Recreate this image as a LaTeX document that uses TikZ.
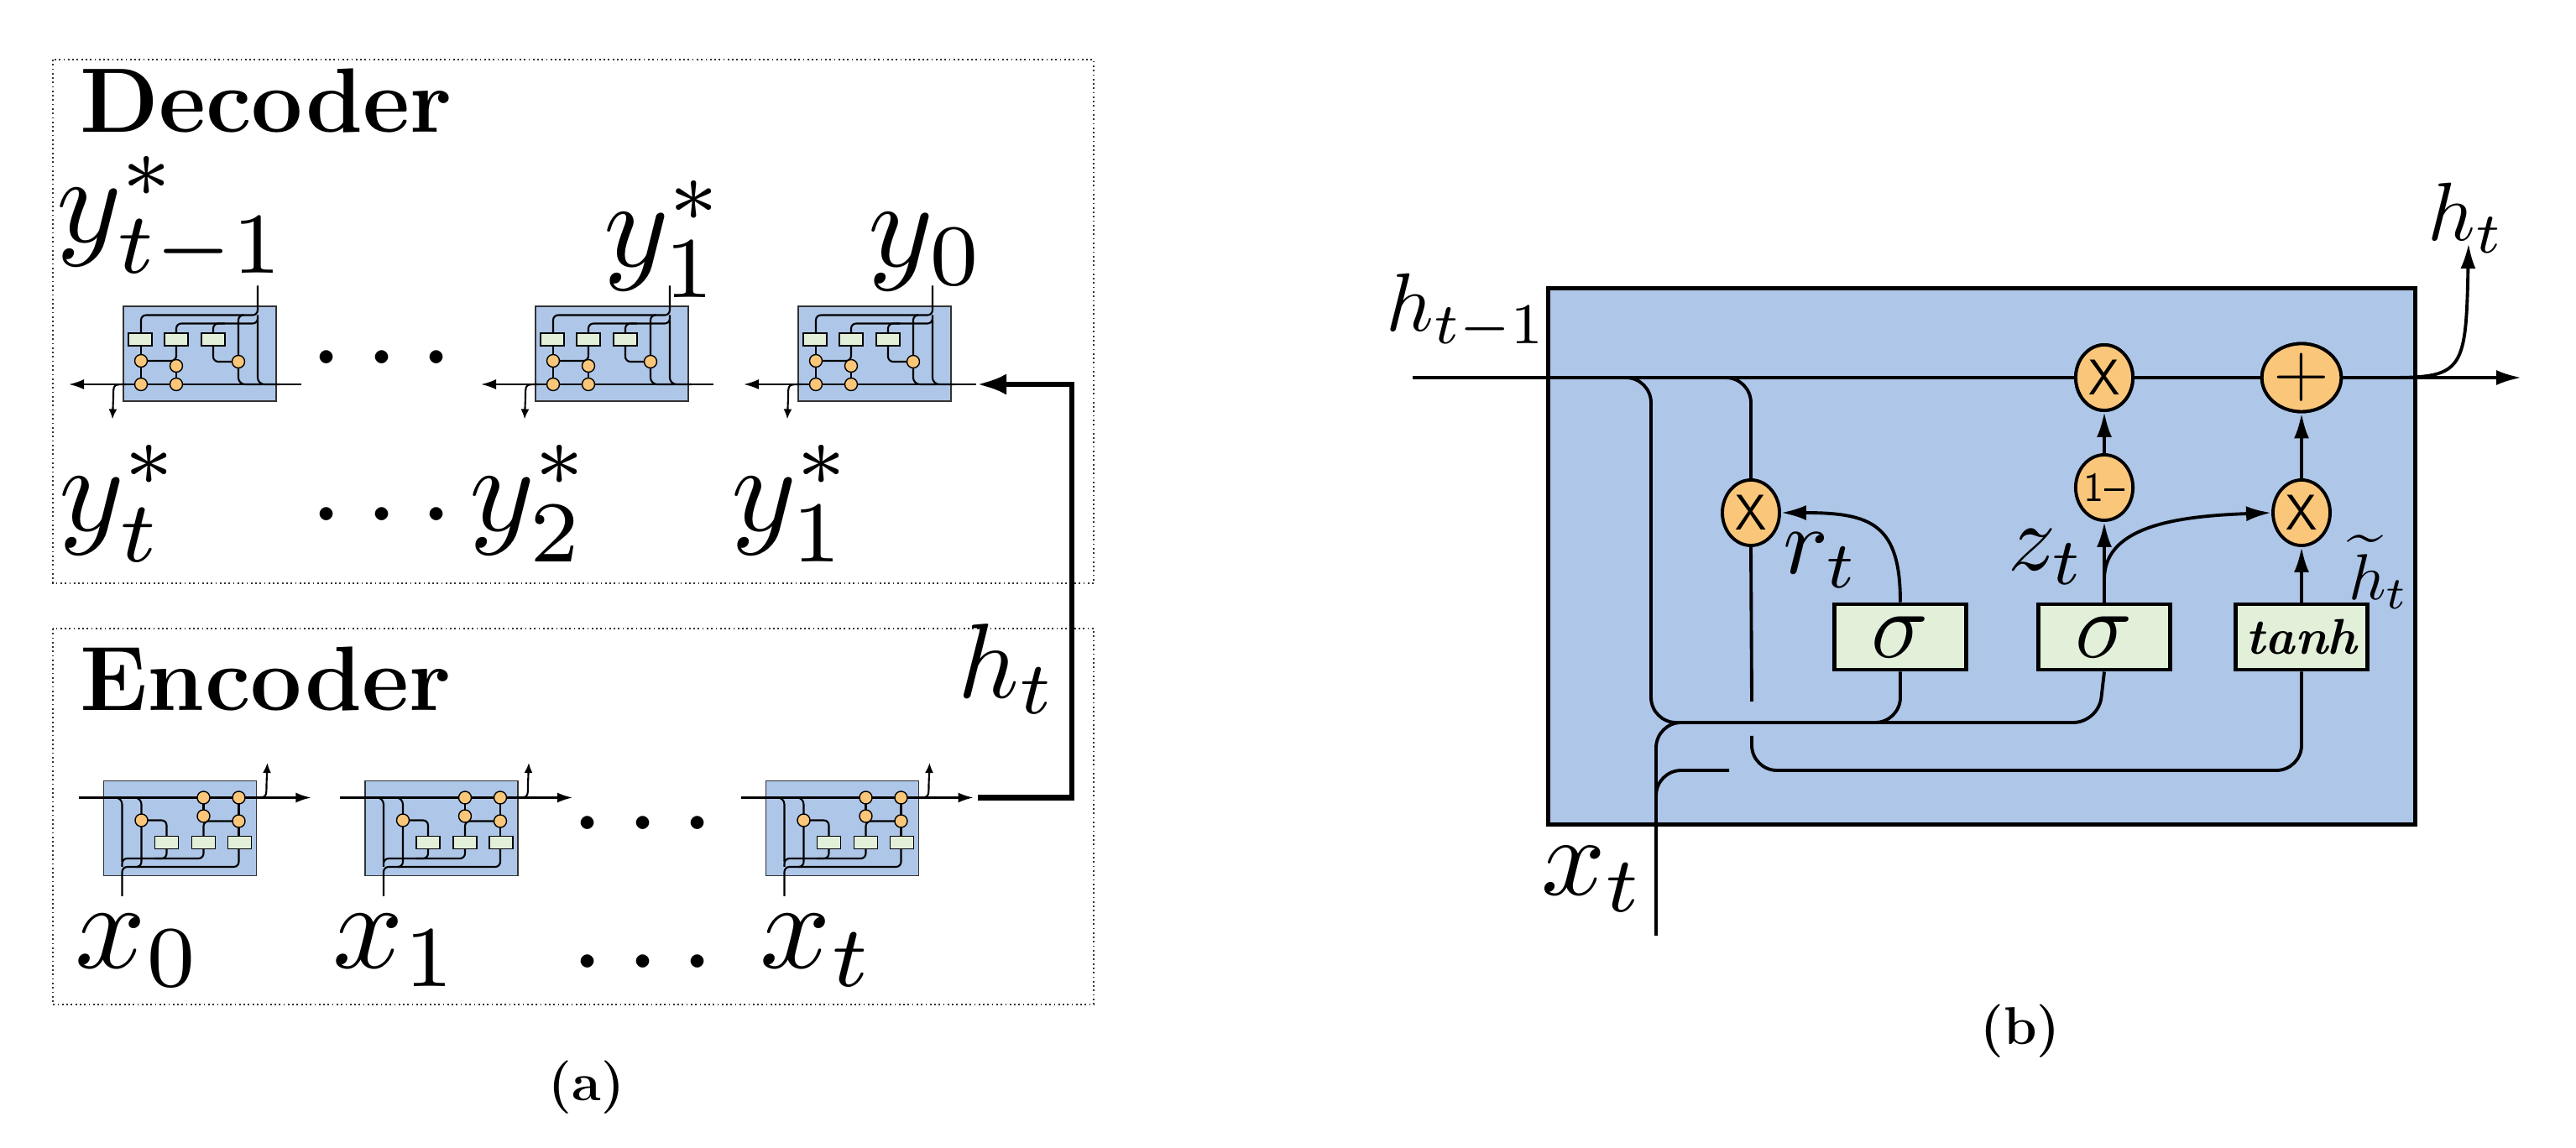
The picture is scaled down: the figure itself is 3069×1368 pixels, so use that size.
\documentclass[tikz,border=0pt]{standalone}
\usetikzlibrary{arrows.meta,shapes.geometric}
\definecolor{cellblue}{HTML}{AEC6E8}
\definecolor{gatefill}{HTML}{E2EFD9}
\definecolor{opfill}{HTML}{FAC67A}
\newcommand{\bm}[2]{\scalebox{#1}{$#2$}}
\begin{document}
\begin{tikzpicture}[x=0.01cm,y=-0.01cm,
  mini/.style={line width=0.6pt},
  minibox/.style={draw=black!80,line width=0.5pt,fill=cellblue},
  minigate/.style={draw=black,line width=0.5pt,fill=gatefill},
  miniop/.style={draw=black,line width=0.4pt,fill=opfill},
  wire/.style={line width=1.1pt,rounded corners=0.3cm},
  arr/.style={-{Latex[length=0.3cm,width=0.18cm]}},
  op/.style={ellipse,draw=black,line width=1.1pt,fill=opfill,minimum width=0.68cm,minimum height=0.78cm,inner sep=0pt,font=\sffamily\fontsize{17}{17}\selectfont},
  gate/.style={rectangle,draw=black,line width=1.4pt,fill=gatefill,minimum width=1.57cm,minimum height=0.78cm,inner sep=0pt},
  minicell/.pic={
    \draw[minibox] (-91,-56.5) rectangle (91,56.5);
    \draw[mini,rounded corners=0.06cm] (69,-81) -- (69,-46) -- (-70,-46) -- (-70,-24.5);
    \draw[mini,rounded corners=0.06cm] (69,-46) -- (69,-36) -- (-28,-36) -- (-28,-24.5);
    \draw[mini,rounded corners=0.06cm] (30,-36) -- (16,-36) -- (16,-24.5);
    \draw[mini,rounded corners=0.06cm] (50,-46) -- (46,-46) -- (46,9.5);
    \draw[mini,rounded corners=0.08cm] (69,-40) -- (69,36.5) -- (95,36.5);
    \draw[mini,rounded corners=0.08cm] (46,9.5) -- (46,36.5) -- (75,36.5);
    \draw[mini,rounded corners=0.06cm] (-70,-17) -- (-70,36.5);
    \draw[mini,rounded corners=0.06cm] (-70,8.5) -- (-28,8.5) -- (-28,-17);
    \draw[mini] (-28,14.5) -- (-28,36.5);
    \draw[mini,rounded corners=0.06cm] (16,-17) -- (16,9.5) -- (46,9.5);
    \draw[mini,-{Latex[length=0.18cm,width=0.12cm]}] (121,36.5) -- (-156,36.5);
    \draw[mini,-{Latex[length=0.12cm,width=0.1cm]}] (-88,36.5) .. controls (-103,36.5) .. (-103,52) -- (-104,78);
    \foreach \gx in {-71,-28,16} \draw[minigate] (\gx-14,-24.5) rectangle (\gx+14,-9.5);
    \foreach \p in {(-70,8.5),(-70,36.5),(-28,14.5),(-28,36.5),(46,9.5)} \fill[miniop] \p circle[radius=0.075cm];
  }]
\useasboundingbox (0,0) rectangle (3069,1368);
% ---------- panel (a) ----------
\draw[densely dotted,line width=0.5pt,black!80] (63,71) rectangle (1303,695);
\draw[densely dotted,line width=0.5pt,black!80] (63,749) rectangle (1303,1197);
\node[anchor=base west,font=\bfseries\fontsize{31}{31}\selectfont] (dec) at (83,158) {Decoder};
\node[anchor=base west,font=\bfseries\fontsize{31}{31}\selectfont] (enc) at (83,847) {Encoder};
\pic at (238,421.5) {minicell};
\pic at (729,421.5) {minicell};
\pic at (1042,421.5) {minicell};
\pic[rotate=180] at (214.5,987) {minicell};
\pic[rotate=180] at (526,987) {minicell};
\pic[rotate=180] at (1003.5,987) {minicell};
\coordinate (fs) at (1165,950.5);
\coordinate (fc1) at (1277,950.5);
\coordinate (fc2) at (1277,458);
\coordinate (fe) at (1164,458);
\draw[line width=1.8pt,-{Latex[length=0.35cm,width=0.25cm]}] (fs) -- (fc1) -- (fc2) -- (fe);
\node (ytm1) at (205,262) {\bm{4.2}{y^*_{t-1}}};
\node (yo1) at (792,285) {\bm{4.2}{y^*_1}};
\node (y0) at (1104,300) {\bm{4.2}{y_0}};
\node (dta) at (455,430) {\bm{4.2}{\cdots}};
\node (yt) at (143,600) {\bm{4.2}{y^*_t}};
\node (dtb) at (455,617) {\bm{4.2}{\cdots}};
\node (y2) at (632,600) {\bm{4.2}{y^*_2}};
\node (y1) at (944,600) {\bm{4.2}{y^*_1}};
\node (hta) at (1200,797) {\bm{3.6}{h_t}};
\node (x0) at (165,1133) {\bm{4.2}{x_0}};
\node (x1) at (472,1133) {\bm{4.2}{x_1}};
\node (dtc) at (766,985) {\bm{4.2}{\cdots}};
\node (dtd) at (766,1150) {\bm{4.2}{\cdots}};
\node (xt) at (974,1133) {\bm{4.2}{x_t}};
\node[font=\bfseries\fontsize{18}{18}\selectfont] (capa) at (699,1296) {(a)};
% ---------- panel (b) ----------
\node[draw=black,line width=1.5pt,fill=cellblue,minimum width=10.32cm,minimum height=6.38cm,inner sep=0pt] (cell) at (2361,663) {};
\coordinate (hin) at (1683,450);
\coordinate (hout) at (3004,450);
\node[op] (mx) at (2507,450) {X};
\node[op] (pl) at (2742,450) {\fontsize{26}{26}\selectfont +};
\node[op,font=\sffamily\fontsize{14}{14}\selectfont] (om) at (2507,581) {1--};
\node[op] (rx) at (2742,611) {X};
\node[op] (lx) at (2086,611) {X};
\node[gate] (sr) at (2264,759) {\bm{3.2}{\sigma}};
\node[gate] (sz) at (2507,759) {\bm{3.2}{\sigma}};
\node[gate,font=\bfseries\itshape\fontsize{17}{17}\selectfont] (th) at (2742,759) {tanh};
\coordinate (xin) at (1973,1115);
\draw[line width=1.1pt,arr] (hin) -- (mx) -- (pl) -- (hout);
\draw[line width=1.1pt,arr] (2850,450) .. controls (2935,450) and (2938,440) .. (2941,290);
\draw[wire] (1850,450) -- (1967,450) -- (1967,861) -- (2500,861) -- (sz.south);
\draw[wire] (sr.south) -- (2264,861) -- (2200,861);
\draw[wire] (1850,450) -- (2086,450) -- (lx.north);
\draw[line width=1.1pt] (lx.south) -- (2087,836);
\draw[wire] (2087,877) -- (2087,918) -- (2742,918) -- (th.south);
\draw[wire] (xin) -- (1973,861) -- (2060,861);
\draw[wire] (1973,1000) -- (1973,918) -- (2060,918);
\draw[line width=1.1pt,arr] (sr.north) .. controls (2264,625) and (2230,611) .. (lx.east);
\draw[line width=1.1pt,arr] (sz.north) -- (om.south);
\draw[line width=1.1pt,arr] (sz.north) -- (2507,690) .. controls (2507,625) and (2600,615) .. (rx.west);
\draw[line width=1.1pt,arr] (om.north) -- (mx.south);
\draw[line width=1.1pt,arr] (th.north) -- (rx.south);
\draw[line width=1.1pt,arr] (rx.north) -- (pl.south);
\node[op] at (mx) {X};
\node[op] at (pl) {\fontsize{26}{26}\selectfont +};
\node (hm1) at (1748,372) {\bm{2.8}{h_{t-1}}};
\node (htb) at (2938,260) {\bm{2.8}{h_t}};
\node (rt) at (2170,668) {\bm{3.2}{r_t}};
\node (zt) at (2438,664) {\bm{3.2}{z_t}};
\node (htt) at (2834,682) {\bm{2.2}{\widetilde{h}_t}};
\node (xtb) at (1898,1048) {\bm{3.8}{x_t}};
\node[font=\bfseries\fontsize{18}{18}\selectfont] (capb) at (2407,1229) {(b)};
\end{tikzpicture}
\end{document}
